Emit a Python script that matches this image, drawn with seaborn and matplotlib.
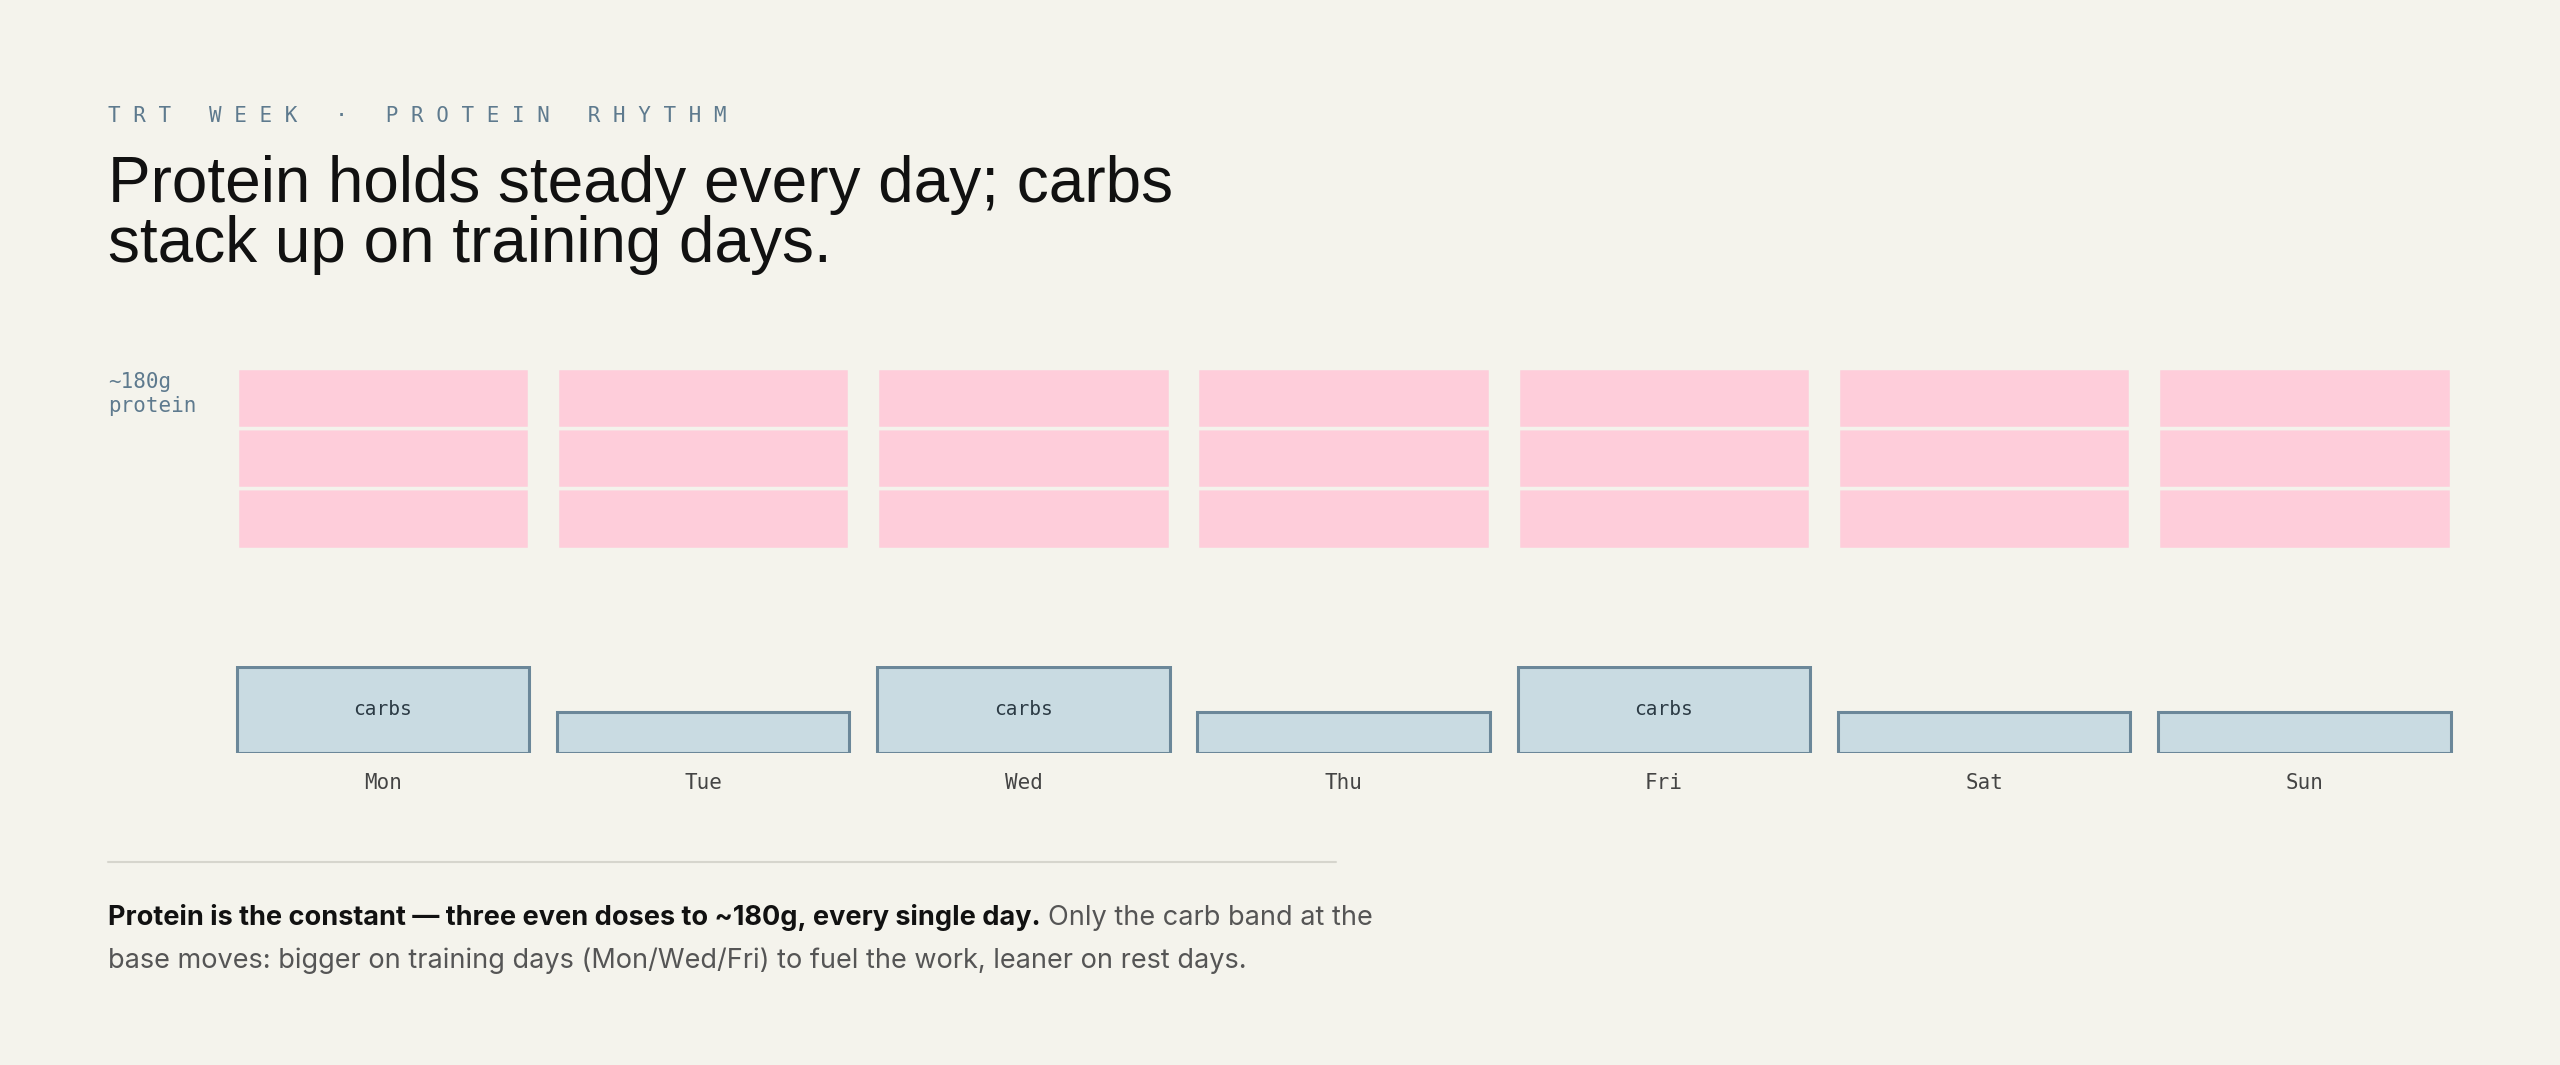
import matplotlib
matplotlib.use("Agg")
import matplotlib.pyplot as plt
import seaborn as sns
import pandas as pd
import numpy as np

days = ["Mon", "Tue", "Wed", "Thu", "Fri", "Sat", "Sun"]
protein_doses = [60, 60, 60]          # three even doses to ~180g
carbs = [250, 118, 250, 118, 250, 118, 118]
carb_labels = ["carbs", "", "carbs", "", "carbs", "", ""]

BG = "#f4f3ec"
PINK = "#fecdda"
CARB_FILL = "#c9dbe2"
CARB_EDGE = "#6b8799"
MUTED = "#5e7a8e"
MONO = ["DejaVu Sans Mono"]

sns.set_theme(style="white")
plt.rcParams["font.family"] = ["Inter", "DejaVu Sans"]

W, H = 1568, 652
def fx(x): return x / W
def fy(y): return 1 - y / H

fig = plt.figure(figsize=(25.6, 10.65), dpi=100, facecolor=BG)

# protein axes
axp = fig.add_axes([fx(136.5), fy(336), fx(1509.5) - fx(136.5), fy(225) - fy(336)])
axc = fig.add_axes([fx(136.5), fy(461), fx(1509.5) - fx(136.5), fy(408) - fy(461)])
for ax in (axp, axc):
    ax.set_facecolor("none")
    for s in ax.spines.values():
        s.set_visible(False)
    ax.set_xticks([]); ax.set_yticks([])

x = np.arange(len(days))
bottom = np.zeros(len(days))
for d in protein_doses:
    axp.bar(x, [d] * len(days), bottom=bottom, width=0.913, color=PINK,
            edgecolor=BG, linewidth=2.5)
    bottom += d
axp.set_xlim(-0.5, len(days) - 0.5)
axp.set_ylim(0, sum(protein_doses))

df = pd.DataFrame({"day": days, "carbs": carbs})
sns.barplot(data=df, x="day", y="carbs", ax=axc, color=CARB_FILL, saturation=1,
            width=0.913, edgecolor=CARB_EDGE, linewidth=2.2)
axc.set_xlim(-0.5, len(days) - 0.5)
axc.set_ylim(0, max(carbs) * 1.006)
axc.set_xlabel(""); axc.set_ylabel("")
axc.set_xticks([]); axc.set_yticks([])
for i, lab in enumerate(carb_labels):
    if lab:
        axc.text(i, carbs[i] / 2, lab, ha="center", va="center", family=MONO,
                 fontsize=14, color="#2b3a44")
for i, d in enumerate(days):
    axc.text(i, -0.35 * max(carbs), d, ha="center", va="center", family=MONO,
             fontsize=15, color="#444444")

# texts
fig.text(fx(66), fy(71), "  ".join("TRT WEEK · PROTEIN RHYTHM".split(" ")).replace("", " ").strip()
         if False else "T R T   W E E K   ·   P R O T E I N   R H Y T H M",
         family=MONO, fontsize=15, color=MUTED, va="center")
fig.text(fx(66), fy(95), "Protein holds steady every day; carbs\nstack up on training days.",
         fontsize=46, color="#111111", va="top", linespacing=1.0,
         family=["Liberation Sans", "DejaVu Sans"])
fig.text(fx(66), fy(241), "~180g\nprotein", family=MONO, fontsize=15, color=MUTED,
         va="center", linespacing=1.25)

fig.add_artist(plt.Line2D([fx(66), fx(818)], [fy(528), fy(528)], color="#d6d5cd", lw=1.5))

t1 = fig.text(fx(66), fy(562), "Protein is the constant — three even doses to ~180g, every single day.",
              fontsize=19.5, fontweight="bold", color="#111111", va="center")
fig.canvas.draw()
bb = t1.get_window_extent(renderer=fig.canvas.get_renderer())
fig.text(bb.x1 / fig.bbox.width + 0.003, fy(562), "Only the carb band at the",
         fontsize=19.5, color="#555555", va="center")
fig.text(fx(66), fy(588), "base moves: bigger on training days (Mon/Wed/Fri) to fuel the work, leaner on rest days.",
         fontsize=19.5, color="#555555", va="center")

fig.savefig("out.png", dpi=100, facecolor=BG)
